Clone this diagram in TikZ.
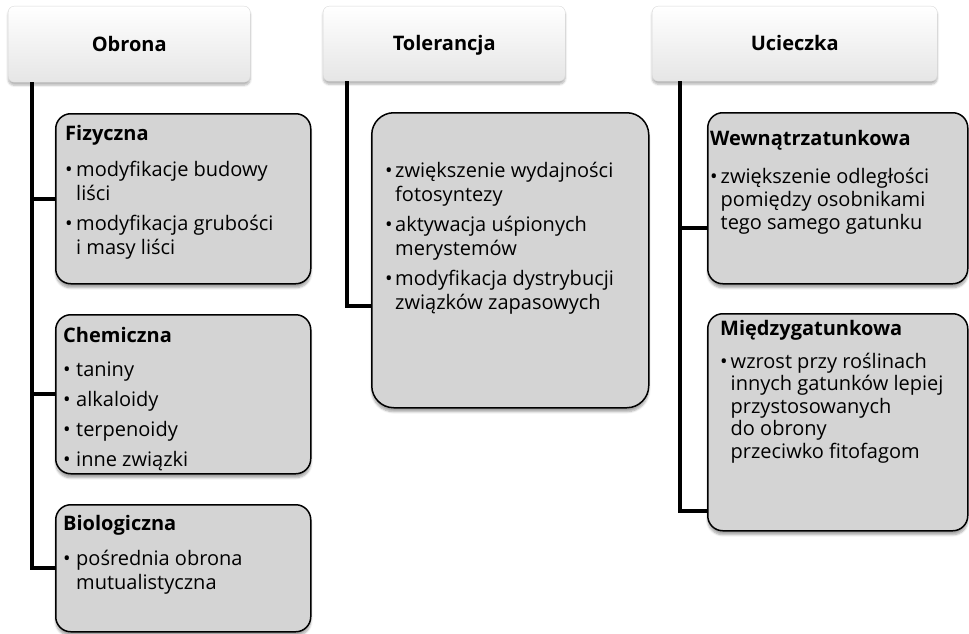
\documentclass[tikz,border=0pt]{standalone}
\usepackage{fontspec}
\setmainfont{Open Sans}
\usetikzlibrary{shadows.blur}
\newlength\hangw
\newcommand{\bl}{\makebox[\hangw][l]{•}}
\newcommand{\ind}{\hspace*{\hangw}}
\newcommand{\boxtext}[2]{\parbox[t]{#1}{\raggedright\setlength\parindent{0pt}#2}}
\tikzset{
  conn/.style={line width=4pt, draw=black},
  hdr/.style={rounded corners=6pt, top color=white, bottom color=black!10,
    draw=black!15, line width=0.4pt, inner sep=0pt, anchor=north west,
    text height=14.5pt, text depth=0pt,
    blur shadow={shadow xshift=0pt, shadow yshift=-3pt, shadow blur steps=6, shadow opacity=30},
    font=\fontsize{20}{24}\selectfont\bfseries},
  subbox/.style={rounded corners=15pt, fill=black!17, draw=black, line width=1.5pt,
    inner sep=0pt, anchor=north west,
    blur shadow={shadow xshift=0pt, shadow yshift=-4pt, shadow blur steps=6, shadow opacity=35}},
  txt/.style={inner sep=0pt, anchor=base west, font=\fontsize{20}{24}\selectfont}
}
\begin{document}
\begin{tikzpicture}[x=1pt,y=-1pt]
\useasboundingbox (0,0) rectangle (969,634);
% headers
\node[hdr, minimum width=242pt, minimum height=76pt] (obr) at (8,6) {Obrona};
\node[hdr, minimum width=242pt, minimum height=75pt] (tolh) at (323,6) {Tolerancja};
\node[hdr, minimum width=285pt, minimum height=75pt] (uch) at (652,6) {Ucieczka};
% boxes
\node[subbox, minimum width=255pt, minimum height=170pt] (fiz) at (55,113) {};
\node[subbox, minimum width=255pt, minimum height=159pt] (chem) at (55,314) {};
\node[subbox, minimum width=255pt, minimum height=127pt] (bio) at (55,504) {};
\node[subbox, rounded corners=22pt, minimum width=277pt, minimum height=295pt] (tol) at (371,112) {};
\node[subbox, minimum width=260pt, minimum height=171pt] (wew) at (707,112) {};
\node[subbox, minimum width=260pt, minimum height=217pt] (mie) at (707,313) {};
% connectors
\draw[conn] ([xshift=24pt]obr.south west) |- (fiz.west);
\draw[conn] ([xshift=24pt]obr.south west) |- (chem.west);
\draw[conn] ([xshift=24pt]obr.south west) |- (bio.west);
\draw[conn] ([xshift=24pt]tolh.south west) |- ([yshift=-45.5pt]tol.west);
\draw[conn] ([xshift=28pt]uch.south west) |- ([yshift=-30pt]wew.west);
\draw[conn] ([xshift=28pt]uch.south west) |- ([yshift=-88.5pt]mie.west);
% texts
\node[txt] (fizt) at (65,140) {\setlength\hangw{11pt}\boxtext{240pt}{%
\textbf{Fizyczna}\\[12.5pt]
\bl modyfikacje budowy\\
\ind liści\\[5.5pt]
\bl modyfikacja grubości\\
\ind i masy liści}};
\node[txt] (chemt) at (63,342) {\setlength\hangw{13pt}\boxtext{240pt}{%
\textbf{Chemiczna}\\[10.5pt]
\bl taniny\\[6pt]
\bl alkaloidy\\[6pt]
\bl terpenoidy\\[6pt]
\bl inne związki}};
\node[txt] (biot) at (63,530) {\setlength\hangw{13pt}\boxtext{240pt}{%
\textbf{Biologiczna}\\[11pt]
\bl pośrednia obrona\\
\ind mutualistyczna}};
\node[txt] (tolt) at (385,177) {\setlength\hangw{10pt}\boxtext{260pt}{%
\bl zwiększenie wydajności\\
\ind fotosyntezy\\[6pt]
\bl aktywacja uśpionych\\
\ind merystemów\\[6pt]
\bl modyfikacja dystrybucji\\
\ind związków zapasowych}};
\node[txt, font=\fontsize{20}{23}\selectfont] (wewt) at (710,145) {\setlength\hangw{10.5pt}\boxtext{255pt}{%
\textbf{Wewnątrzatunkowa}\\[15pt]
\bl zwiększenie odległości\\
\ind pomiędzy osobnikami\\
\ind tego samego gatunku}};
\node[txt, font=\fontsize{20}{22.5}\selectfont] (miet) at (720,335) {\setlength\hangw{10.5pt}\boxtext{245pt}{%
\textbf{Międzygatunkowa}\\[10.5pt]
\bl wzrost przy roślinach\\
\ind innych gatunków lepiej\\
\ind przystosowanych\\
\ind do obrony\\
\ind przeciwko fitofagom}};
\end{tikzpicture}
\end{document}
